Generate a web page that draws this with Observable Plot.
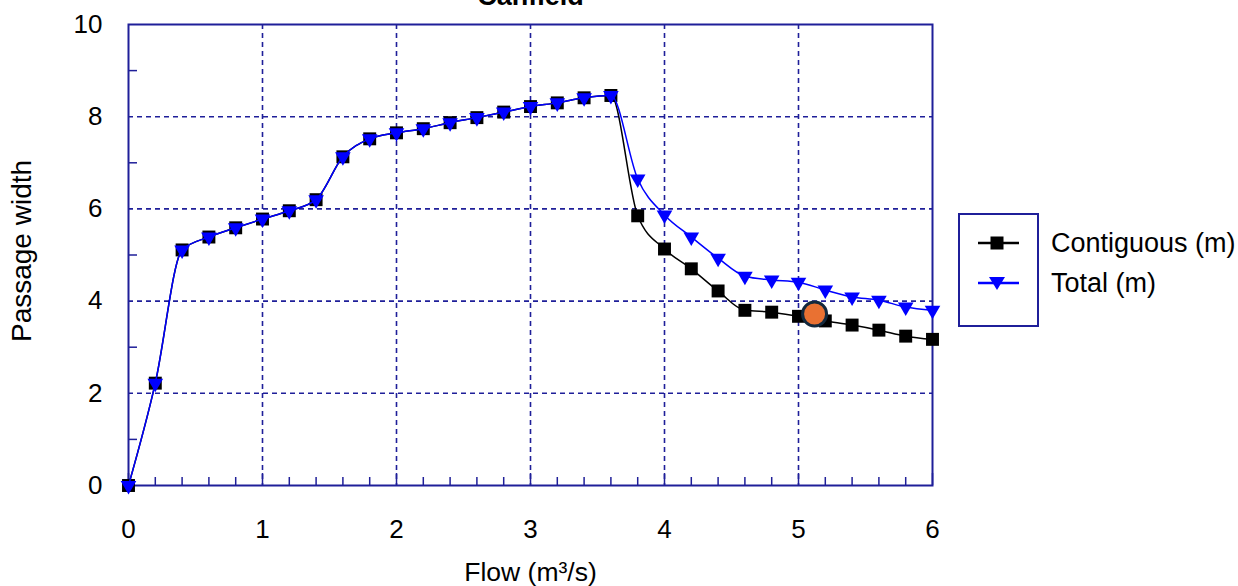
<!DOCTYPE html>
<html><head><meta charset="utf-8">
<script src="https://cdn.jsdelivr.net/npm/d3@7"></script>
<script src="https://cdn.jsdelivr.net/npm/@observablehq/plot@0.6"></script>
<style>
body{margin:0;background:#fff;font-family:"Liberation Sans",Arial,sans-serif;}
#wrap{position:relative;width:1238px;height:586px;overflow:hidden;background:#fff;}
#legendBox{position:absolute;left:958px;top:213px;width:77px;height:110px;border:2px solid #1f1f99;box-sizing:content-box;}
.lg{position:absolute;left:0;width:1238px;height:30px;}
.lg svg{position:absolute;left:975px;top:0;}
.lg span{position:absolute;left:1051px;top:0;font-size:27px;line-height:30px;color:#000;white-space:nowrap;}
</style></head>
<body>
<div id="wrap"><div id="chart"></div><div id="legendBox"></div><div id="legend"></div></div>
<script>
// ---- data ----
const title = "Canfield";
const xLabel = "Flow (m\u00B3/s)";
const yLabel = "Passage width";
const seriesNames = ["Contiguous (m)", "Total (m)"];
const flow = [0,0.2,0.4,0.6,0.8,1.0,1.2,1.4,1.6,1.8,2.0,2.2,2.4,2.6,2.8,3.0,3.2,3.4,3.6,3.8,4.0,4.2,4.4,4.6,4.8,5.0,5.2,5.4,5.6,5.8,6.0];
const contiguous = [0,2.22,5.11,5.39,5.59,5.78,5.96,6.2,7.13,7.52,7.65,7.74,7.87,7.98,8.1,8.22,8.3,8.41,8.46,5.85,5.13,4.7,4.22,3.8,3.76,3.67,3.57,3.48,3.37,3.24,3.17];
const total = [0,2.22,5.11,5.39,5.59,5.78,5.96,6.2,7.13,7.52,7.65,7.74,7.87,7.98,8.1,8.22,8.3,8.41,8.46,6.65,5.87,5.39,4.93,4.54,4.46,4.41,4.24,4.09,4.02,3.87,3.8];
const highlightFlow = [5.12];
const highlightWidth = [3.72];
const xTicks = [0,1,2,3,4,5,6];
const yTicks = [0,2,4,6,8,10];
const xGrid = [1,2,3,4,5];
const yGrid = [2,4,6,8];
const xMinor = [0.2,0.4,0.6,0.8,1.2,1.4,1.6,1.8,2.2,2.4,2.6,2.8,3.2,3.4,3.6,3.8,4.2,4.4,4.6,4.8,5.2,5.4,5.6,5.8];
const yMinor = [1,3,5,7,9];

// ---- layout ----
const W = 1238, H = 586, mt = 24, mb = 101, ml = 128, mr = 306;
const plotH = H - mt - mb, plotW = W - ml - mr;
const navy = "#1f1f99";
const rows = flow.map((f, i) => ({flow: f, contiguous: contiguous[i], total: total[i]}));
const hl = highlightFlow.map((f, i) => ({flow: f, width: highlightWidth[i]}));

const chart = Plot.plot({
  width: W, height: H, marginTop: mt, marginBottom: mb, marginLeft: ml, marginRight: mr,
  style: {fontFamily: '"Liberation Sans", Arial, sans-serif', fontSize: "26px", color: "#000", background: "#fff", overflow: "visible"},
  x: {domain: [0, 6]},
  y: {domain: [0, 10]},
  marks: [
    Plot.ruleX(xGrid, {stroke: navy, strokeWidth: 1.6, strokeDasharray: "5,4"}),
    Plot.ruleY(yGrid, {stroke: navy, strokeWidth: 1.6, strokeDasharray: "5,4"}),
    Plot.ruleX(xMinor, {stroke: navy, strokeWidth: 1.5, insetTop: plotH - 8}),
    Plot.ruleX(xTicks, {stroke: navy, strokeWidth: 1.5, insetTop: plotH - 12}),
    Plot.ruleY(yMinor, {stroke: navy, strokeWidth: 1.5, insetRight: plotW - 9}),
    Plot.frame({stroke: navy, strokeWidth: 2}),
    Plot.axisX(xTicks, {tickSize: 0, tickPadding: 34, label: null, fontSize: 26, tickFormat: d => String(d)}),
    Plot.axisY(yTicks, {tickSize: 0, tickPadding: 26, label: null, fontSize: 26, tickFormat: d => String(d)}),
    Plot.line(rows, {x: "flow", y: "contiguous", stroke: "#000", strokeWidth: 1.5, curve: "monotone-x"}),
    Plot.dot(rows, {x: "flow", y: "contiguous", symbol: "square", r: 7.3, fill: "#000"}),
    Plot.line(rows, {x: "flow", y: "total", stroke: "#0000ff", strokeWidth: 1.5, curve: "monotone-x"}),
    Plot.dot(rows, {x: "flow", y: "total", symbol: "triangle", r: 5.8, fill: "#0000ff", rotate: 180}),
    Plot.dot(hl, {x: "flow", y: "width", r: 12, fill: "#E97132", stroke: "#13293d", strokeWidth: 3}),
    Plot.text([xLabel], {text: d => d, frameAnchor: "bottom", lineAnchor: "middle", textAnchor: "middle", dy: 87, fontSize: 26.5, fill: "#000"}),
    Plot.text([yLabel], {text: d => d, frameAnchor: "left", textAnchor: "middle", lineAnchor: "middle", rotate: -90, dx: -106, dy: -4, fontSize: 28, fill: "#000"}),
    Plot.text([title], {text: d => d, frameAnchor: "top", lineAnchor: "bottom", dy: -20, fontSize: 27, fontWeight: "bold", fill: "#000"})
  ]
});
document.getElementById("chart").appendChild(chart);

// ---- legend ----
const legend = document.getElementById("legend");
const keys = [
  {name: seriesNames[0], color: "#000", shape: "square", top: 228},
  {name: seriesNames[1], color: "#0000ff", shape: "tri", top: 268}
];
for (const k of keys) {
  const div = document.createElement("div");
  div.className = "lg";
  div.style.top = k.top + "px";
  const mk = k.shape === "square"
    ? `<rect x="15.5" y="8.5" width="13" height="13" fill="${k.color}"/>`
    : `<path d="M14,9 L30,9 L22,22 Z" fill="${k.color}"/>`;
  div.innerHTML = `<svg width="46" height="30"><line x1="3" x2="44" y1="15" y2="15" stroke="${k.color}" stroke-width="2.5"/>${mk}</svg><span>${k.name}</span>`;
  legend.appendChild(div);
}
</script>
</body></html>
